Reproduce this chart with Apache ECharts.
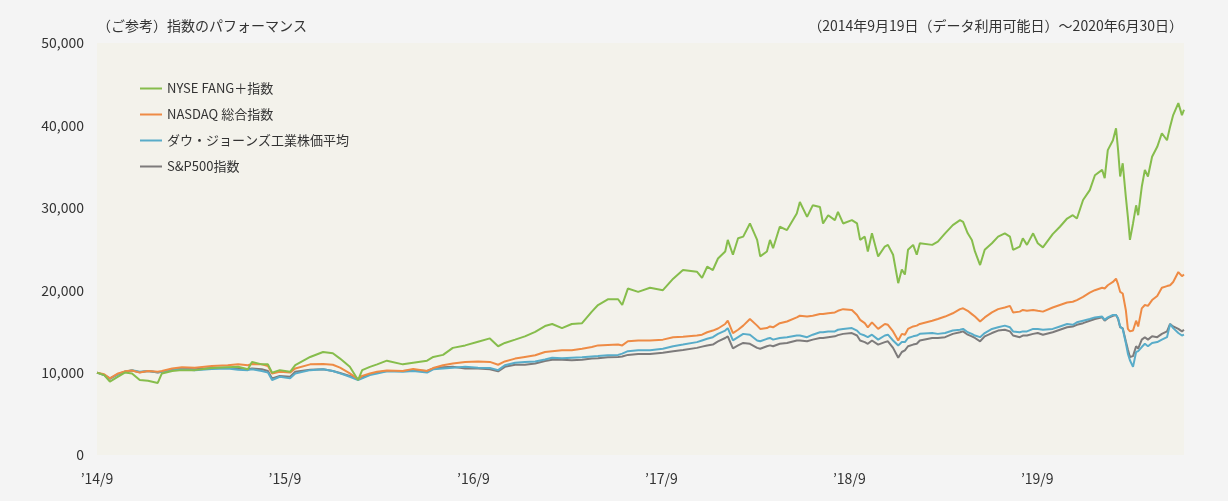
<!DOCTYPE html>
<html><head><meta charset="utf-8">
<script src="https://cdn.jsdelivr.net/npm/echarts@6/dist/echarts.min.js"></script>
<style>html,body{margin:0;padding:0;background:#f4f4f4;}#c{width:1228px;height:501px;}</style>
</head><body><div id="c"></div>
<script>
const dates = [
'2014-09-19','2014-10-03','2014-10-14','2014-10-30','2014-11-12','2014-11-26','2014-12-11','2014-12-27','2015-01-15','2015-01-23',
'2015-02-12','2015-03-03','2015-03-28','2015-04-30','2015-05-31','2015-06-20','2015-07-09','2015-07-17','2015-08-05','2015-08-17',
'2015-08-25','2015-09-09','2015-09-29','2015-10-09','2015-11-07','2015-12-02','2015-12-21','2016-01-04','2016-01-23','2016-02-08',
'2016-02-16','2016-03-02','2016-03-16','2016-04-04','2016-05-05','2016-05-25','2016-06-21','2016-07-03','2016-07-22','2016-08-10',
'2016-09-03','2016-09-28','2016-10-21','2016-11-06','2016-11-19','2016-12-09','2016-12-28','2017-01-17','2017-02-05','2017-02-19',
'2017-03-10','2017-03-29','2017-04-18','2017-05-07','2017-05-19','2017-06-07','2017-06-27','2017-07-05','2017-07-16','2017-08-05',
'2017-08-28','2017-09-22','2017-10-12','2017-10-31','2017-11-27','2017-12-07','2017-12-17','2017-12-28','2018-01-07','2018-01-21',
'2018-01-26','2018-02-05','2018-02-15','2018-02-25','2018-03-10','2018-03-24','2018-03-30','2018-04-12','2018-04-18','2018-04-24',
'2018-05-07','2018-05-21','2018-06-09','2018-06-15','2018-06-29','2018-07-10','2018-07-24','2018-07-30','2018-08-09','2018-08-22',
'2018-08-28','2018-09-07','2018-09-24','2018-10-04','2018-10-10','2018-10-19','2018-10-25','2018-11-02','2018-11-14','2018-11-27',
'2018-12-03','2018-12-13','2018-12-23','2018-12-30','2019-01-05','2019-01-11','2019-01-21','2019-01-28','2019-02-03','2019-02-27',
'2019-03-10','2019-03-24','2019-04-08','2019-04-22','2019-04-28','2019-05-07','2019-05-15','2019-05-21','2019-05-31','2019-06-09',
'2019-06-23','2019-07-05','2019-07-18','2019-07-28','2019-08-03','2019-08-16','2019-08-22','2019-08-30','2019-09-11','2019-09-20',
'2019-09-30','2019-10-19','2019-11-02','2019-11-16','2019-11-27','2019-12-05','2019-12-17','2019-12-30','2020-01-09','2020-01-23',
'2020-01-28','2020-02-03','2020-02-13','2020-02-19','2020-02-23','2020-02-27','2020-03-03','2020-03-09','2020-03-13','2020-03-17',
'2020-03-23','2020-03-29','2020-04-02','2020-04-09','2020-04-15','2020-04-21','2020-04-29','2020-05-09','2020-05-18','2020-05-28',
'2020-06-03','2020-06-09','2020-06-19','2020-06-26','2020-06-30'];

const fang = [
10000,9700,8900,9500,10000,9900,9100,9000,8750,9900,
10200,10300,10300,10550,10650,10700,10400,11300,11000,11000,
10000,10300,10100,10900,11900,12500,12350,11700,10700,9100,
10300,10700,11000,11450,11000,11200,11450,11900,12150,13000,
13300,13750,14150,13200,13600,14000,14400,14950,15650,15900,
15400,15900,16000,17400,18200,18900,18900,18200,20200,19800,
20300,20000,21400,22450,22250,21500,22850,22450,23850,24700,
26100,24300,26300,26500,28100,26100,24100,24700,26100,25100,
27700,27300,29300,30700,28900,30300,30100,28100,29100,28500,
29500,28100,28500,28100,26100,26500,24700,26900,24100,25300,
25500,24300,20850,22500,21900,24900,25500,24300,25700,25500,
25900,26900,27900,28500,28300,26900,26100,24700,23050,24900,
25700,26500,26900,26500,24900,25300,26300,25500,26900,25700,
25200,26800,27700,28700,29100,28700,30950,32150,33950,34600,
33600,37000,38200,39650,37000,33800,35400,31350,28900,26100,
28100,30300,29100,32550,34600,33800,36200,37400,39050,38200,
39850,41250,42700,41250,41900];

const nasdaq = [
10000,9800,9300,9900,10150,10250,10000,10200,10100,10200,
10500,10650,10600,10800,10900,11000,10900,11050,11000,10800,
9900,10100,10000,10500,11000,11050,10950,10600,9900,9200,
9600,9900,10100,10250,10200,10450,10200,10550,10900,11100,
11300,11350,11300,10950,11350,11700,11900,12100,12500,12600,
12700,12700,12900,13100,13300,13350,13400,13300,13800,13900,
13900,14000,14300,14350,14500,14600,14900,15100,15350,15900,
16300,14800,15200,15700,16500,15700,15300,15400,15600,15500,
16000,16200,16700,16900,16800,16900,17100,17100,17200,17300,
17500,17700,17600,17000,16400,16000,15500,16100,15300,15900,
15800,15000,13900,14700,14600,15300,15600,15700,15900,16300,
16500,16800,17200,17700,17800,17500,17100,16800,16200,16700,
17300,17700,17900,18100,17300,17400,17600,17500,17600,17500,
17400,17900,18200,18500,18600,18800,19200,19700,20000,20300,
20200,20600,21000,21400,20700,19800,19600,17600,15300,15000,
15100,16300,15600,17800,18200,18100,18800,19300,20300,20500,
20600,21000,22200,21700,21900];

const dow = [
10000,9700,9300,9800,10100,10300,10100,10200,10050,10100,
10300,10400,10300,10450,10500,10350,10300,10400,10200,10000,
9100,9500,9300,9900,10300,10400,10200,9900,9500,9100,
9300,9700,9900,10150,10100,10200,10000,10400,10500,10600,
10700,10600,10550,10300,10900,11200,11300,11350,11600,11800,
11750,11800,11850,11950,12000,12100,12150,12300,12600,12700,
12700,12900,13200,13400,13700,13900,14100,14300,14700,15100,
15400,13900,14300,14700,14600,13900,13800,14100,14200,14000,
14200,14300,14500,14500,14300,14600,14900,14900,15000,15000,
15200,15300,15400,15100,14700,14500,14300,14600,14000,14500,
14600,13900,13300,13700,13700,14200,14400,14500,14700,14800,
14700,14800,15100,15200,15300,14900,14700,14500,14300,14800,
15300,15500,15700,15500,15000,14900,15000,15000,15300,15300,
15200,15300,15600,15900,15800,16100,16300,16500,16700,16800,
16400,16700,17000,17000,16600,15600,15300,13600,12300,11500,
10700,12500,12600,13100,13500,13200,13600,13700,14000,14300,
15900,15400,14800,14500,14600];

const sp500 = [
10000,9700,9250,9800,10100,10250,10050,10200,10000,10100,
10400,10450,10400,10550,10600,10500,10400,10500,10400,10200,
9300,9600,9500,10100,10350,10400,10200,9950,9600,9200,
9400,9800,10000,10200,10200,10300,10200,10500,10650,10700,
10500,10500,10400,10150,10700,10950,10950,11100,11400,11550,
11550,11500,11550,11700,11750,11850,11900,11950,12150,12250,
12250,12400,12600,12750,13000,13150,13300,13400,13800,14200,
14400,12950,13300,13600,13500,13000,12900,13200,13300,13200,
13500,13600,13900,13900,13800,14000,14200,14200,14300,14400,
14550,14700,14800,14500,13900,13700,13500,13900,13400,13700,
13800,13000,11800,12500,12700,13200,13400,13500,13900,14200,
14200,14300,14700,14900,15000,14600,14400,14200,13800,14400,
14800,15100,15200,15000,14500,14300,14500,14500,14700,14800,
14600,14900,15200,15500,15600,15800,16000,16300,16500,16700,
16300,16600,16900,17000,16500,15500,15400,13800,12800,11900,
12000,13200,12900,14000,14300,14000,14400,14300,14700,15000,
15900,15600,15300,15000,15200];

const seriesNames = ['NYSE FANG＋指数','NASDAQ 総合指数','ダウ・ジョーンズ工業株価平均','S&P500指数'];
const seriesColors = ['#86bd4c','#ee8b45','#58acc9','#7d7b7b'];
const xTickDates = ['2014-09-19','2015-09-19','2016-09-19','2017-09-19','2018-09-19','2019-09-19'];
const yTicks = [0,10000,20000,30000,40000,50000];
const titleLeft = '（ご参考）指数のパフォーマンス';
const titleRight = '（2014年9月19日（データ利用可能日）～2020年6月30日）';

const FONT = '"Noto Sans CJK JP","Noto Sans",sans-serif';
const DAY = 86400000;
const t0 = Date.UTC(2014,8,19);
function dayOf(s){const p=s.split('-').map(Number);return Math.round((Date.UTC(p[0],p[1]-1,p[2])-t0)/DAY);}
function fmtDay(v){const d=new Date(t0+v*DAY);return '’'+String(d.getUTCFullYear()).slice(2)+'/'+(d.getUTCMonth()+1);}
const allVals = [fang, nasdaq, dow, sp500];
const chart = echarts.init(document.getElementById('c'));
chart.setOption({
  animation:false,
  backgroundColor:'#f4f4f4',
  textStyle:{fontFamily:FONT},
  title:[
    {text:titleLeft,left:92,top:14,textStyle:{fontSize:14,fontWeight:'normal',color:'#333',fontFamily:FONT}},
    {text:titleRight,right:40,top:14,textStyle:{fontSize:14,fontWeight:'normal',color:'#333',fontFamily:FONT}}
  ],
  legend:{
    orient:'vertical',left:135,top:77,itemWidth:22,itemHeight:2,itemGap:13,icon:'rect',
    textStyle:{fontSize:13,color:'#333',fontFamily:FONT},
    data:seriesNames
  },
  grid:{left:97,right:44,top:43,bottom:46,show:true,backgroundColor:'#f3f2eb',borderWidth:0},
  xAxis:{
    type:'value',
    min:dayOf(dates[0]),max:dayOf(dates[dates.length-1]),
    axisLine:{show:false},axisTick:{show:false},splitLine:{show:false},
    axisLabel:{
      customValues:xTickDates.map(dayOf),
      fontSize:14,color:'#333',margin:17,fontFamily:FONT,
      formatter:fmtDay
    }
  },
  yAxis:{
    type:'value',min:yTicks[0],max:yTicks[yTicks.length-1],interval:yTicks[1]-yTicks[0],
    axisLine:{show:false},axisTick:{show:false},splitLine:{show:false},
    axisLabel:{fontSize:14,color:'#333',margin:13,fontFamily:FONT,
      formatter:function(v){return v.toLocaleString('en-US');}}
  },
  series:seriesNames.map((n,i)=>({
    name:n,type:'line',showSymbol:false,symbol:'none',z:10-i,
    lineStyle:{width:2,color:seriesColors[i]},itemStyle:{color:seriesColors[i]},
    data:dates.map((d,k)=>[dayOf(d),allVals[i][k]])
  })).reverse()
});
</script></body></html>
